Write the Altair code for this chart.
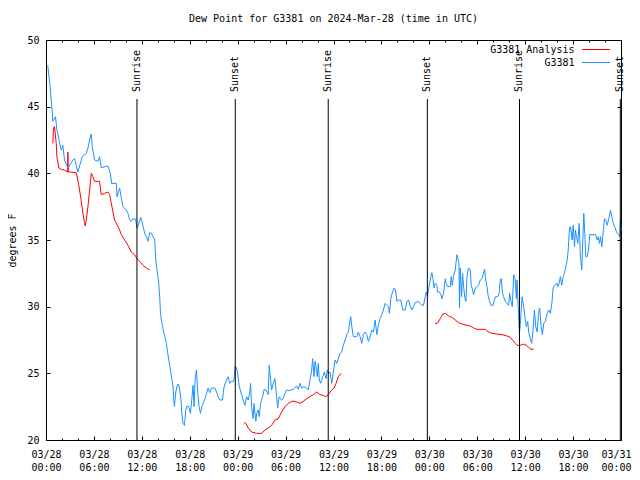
import altair as alt
import pandas as pd

# ---------------- data ----------------
blue_hours = [0.22, 0.50, 0.78, 0.85, 1.19, 1.36, 1.70, 1.91, 2.11, 2.32, 2.74, 3.16, 3.36, 3.58, 3.99, 4.54, 5.04, 5.25, 5.46, 5.67,
              5.79, 6.08, 6.50, 6.71, 6.92, 7.34, 7.75, 8.06, 8.22, 8.81, 8.88, 9.22, 9.44, 9.64, 10.06, 10.26, 10.48, 10.69, 10.89, 11.23,
              11.39, 11.60, 11.86, 12.07, 12.36, 12.57, 12.77, 12.98, 13.20, 13.40, 13.61, 13.74, 13.90, 14.08, 14.24, 14.33, 14.45, 14.58, 14.74, 14.90,
              15.08, 15.24, 15.41, 15.58, 15.75, 15.91, 16.00, 16.08, 16.25, 16.41, 16.59, 16.75, 16.91, 17.00, 17.16, 17.34, 17.50, 17.66, 17.88, 18.09,
              18.25, 18.42, 18.54, 18.67, 18.84, 19.01, 19.17, 19.35, 19.51, 19.67, 19.92, 20.10, 20.30, 20.51, 20.72, 21.14, 21.35, 21.55, 21.77, 22.10,
              22.27, 22.43, 22.81, 23.02, 23.23, 23.52, 23.69, 23.86, 24.02, 24.19, 24.49, 24.69, 24.90, 25.12, 25.32, 25.53, 25.62, 25.74, 25.94, 26.03,
              26.28, 26.37, 26.57, 26.70, 26.87, 27.12, 27.32, 27.54, 27.82, 27.95, 28.13, 28.25, 28.45, 28.67, 28.88, 29.00, 29.20, 29.51, 29.71, 29.92,
              30.13, 30.46, 30.96, 31.39, 31.59, 31.80, 32.01, 32.30, 32.64, 32.84, 33.06, 33.27, 33.39, 33.56, 33.68, 33.81, 33.97, 34.10, 34.22, 34.40,
              34.65, 34.85, 35.06, 35.23, 35.40, 35.56, 35.78, 35.98, 36.19, 36.40, 36.61, 36.82, 37.03, 37.23, 37.45, 37.66, 37.86, 38.07, 38.16, 38.29,
              38.49, 38.91, 39.11, 39.33, 39.54, 39.74, 39.95, 40.17, 40.37, 40.58, 40.80, 41.00, 41.21, 41.33, 41.42, 41.62, 41.84, 42.05, 42.25, 42.46,
              42.67, 42.88, 43.00, 43.18, 43.38, 43.59, 43.76, 43.93, 44.13, 44.43, 44.68, 44.97, 45.19, 45.39, 45.60, 45.81, 46.01, 46.23, 46.64, 46.85,
              47.07, 47.27, 47.48, 47.61, 47.77, 47.89, 48.02, 48.20, 48.32, 48.45, 48.61, 48.73, 48.95, 49.02, 49.27, 49.45, 49.58, 49.78, 49.99, 50.11,
              50.28, 50.62, 50.74, 50.87, 51.03, 51.24, 51.46, 51.58, 51.71, 51.78, 51.87, 52.04, 52.16, 52.29, 52.46, 52.59, 52.71, 52.91, 53.13, 53.25,
              53.42, 53.54, 53.75, 53.97, 54.17, 54.38, 54.59, 54.92, 55.04, 55.22, 55.38, 55.55, 55.72, 55.97, 56.14, 56.30, 56.55, 56.73, 56.89, 57.02,
              57.14, 57.30, 57.52, 57.93, 58.06, 58.23, 58.39, 58.56, 58.74, 58.90, 58.98, 59.19, 59.28, 59.40, 59.61, 59.81, 60.03, 60.15, 60.32, 60.44,
              60.65, 60.82, 60.99, 61.16, 61.32, 61.50, 61.66, 61.82, 62.00, 62.16, 62.32, 62.53, 62.75, 62.95, 63.16, 63.37, 63.50, 63.66, 64.00, 64.07,
              64.25, 64.41, 64.58, 64.75, 64.92, 65.08, 65.26, 65.39, 65.55, 65.67, 65.89, 66.01, 66.18, 66.30, 66.43, 66.59, 66.76, 66.92, 67.09, 67.34,
              67.47, 67.59, 67.77, 67.93, 68.09, 68.81, 69.02, 69.15, 69.31, 69.43, 69.60, 69.77, 69.93, 70.10, 70.27, 70.48, 70.69, 70.85, 71.03, 71.19,
              71.44, 71.69, 71.85, 71.94, 72.00]
blue_vals = [48.1, 46.6, 44.6, 43.9, 44.25, 43.25, 42.3, 41.75, 42.1, 41.0, 40.4, 40.8, 41.0, 41.1, 40.1, 41.25, 41.5, 41.9, 42.5, 42.95,
             42.0, 41.0, 40.9, 41.25, 40.4, 40.5, 40.55, 40.0, 39.25, 39.25, 38.25, 38.9, 38.1, 37.5, 37.25, 37.0, 36.5, 36.4, 36.6, 36.55,
             35.9, 36.2, 36.7, 36.25, 35.5, 35.25, 34.9, 35.55, 35.5, 35.25, 35.0, 33.5, 32.75, 32.0, 30.75, 29.5, 29.0, 28.6, 28.1, 27.75,
             27.25, 26.5, 25.9, 25.25, 24.6, 24.05, 23.0, 22.5, 23.6, 24.05, 24.2, 23.75, 23.0, 22.0, 21.25, 21.1, 22.25, 22.55, 22.5, 22.0,
             23.0, 24.1, 22.5, 24.6, 25.25, 23.5, 22.5, 22.0, 22.5, 22.75, 23.1, 23.5, 23.9, 23.55, 23.9, 23.9, 23.6, 23.25, 23.0, 23.0,
             23.9, 24.25, 24.75, 24.25, 24.4, 24.4, 25.55, 25.4, 24.9, 24.05, 23.4, 23.0, 22.6, 23.25, 23.0, 23.6, 24.25, 22.5, 21.6, 22.75,
             21.4, 22.0, 22.25, 21.75, 22.75, 23.25, 23.8, 23.75, 23.4, 25.6, 24.5, 23.75, 24.25, 24.6, 23.25, 22.4, 23.25, 23.0, 23.1, 23.5,
             23.75, 23.7, 23.8, 24.05, 23.8, 24.25, 23.9, 24.0, 23.9, 23.75, 24.5, 25.25, 26.1, 24.75, 25.9, 25.5, 24.75, 25.75, 24.5, 24.25,
             24.75, 25.1, 24.6, 25.25, 25.0, 25.1, 24.25, 25.1, 26.0, 25.75, 26.1, 26.5, 26.6, 27.1, 27.5, 27.9, 28.1, 29.0, 29.25, 28.5,
             27.75, 27.75, 28.1, 27.75, 27.25, 27.9, 28.1, 27.9, 27.4, 27.75, 28.25, 28.1, 29.0, 28.4, 27.9, 28.6, 29.1, 29.4, 29.75, 30.25,
             30.1, 30.0, 29.5, 30.6, 31.1, 31.4, 31.25, 30.4, 30.5, 30.5, 29.75, 29.75, 30.4, 30.5, 30.1, 29.75, 30.0, 30.3, 30.4, 30.25,
             30.1, 30.1, 30.75, 31.1, 30.75, 31.25, 31.75, 32.25, 32.55, 32.1, 31.4, 31.75, 31.6, 31.1, 31.1, 30.9, 30.6, 31.0, 32.1, 31.75,
             31.5, 31.5, 32.25, 31.6, 32.25, 32.75, 33.9, 33.6, 33.25, 29.9, 32.9, 30.75, 32.5, 31.5, 30.6, 30.4, 32.25, 32.9, 32.75, 31.6,
             31.25, 30.9, 31.4, 31.5, 31.6, 32.0, 32.1, 32.8, 32.1, 31.5, 30.75, 30.4, 30.1, 30.1, 30.5, 30.75, 30.75, 31.0, 32.0, 32.1,
             31.1, 30.75, 30.4, 30.1, 31.0, 30.4, 30.0, 32.4, 32.1, 30.6, 32.0, 29.1, 28.0, 28.75, 30.75, 30.0, 29.0, 28.5, 28.9, 28.1,
             27.6, 27.25, 28.25, 29.75, 28.5, 28.1, 29.4, 29.9, 28.5, 27.9, 28.75, 28.9, 29.5, 29.75, 29.5, 30.4, 31.4, 31.6, 31.75, 31.5,
             31.75, 32.25, 31.6, 32.25, 32.5, 33.0, 33.5, 34.25, 35.9, 36.0, 35.0, 36.1, 34.5, 35.75, 35.25, 34.75, 36.25, 33.75, 32.75, 37.0,
             35.5, 33.75, 33.75, 34.25, 35.4, 35.4, 35.0, 35.25, 34.75, 35.25, 34.5, 35.6, 36.6, 36.5, 36.1, 36.6, 37.25, 36.75, 36.25, 36.0,
             35.6, 35.4, 35.25, 36.6, 35.7]

red_segments = [1, 2, 3]
red_hours = [
    [0.85, 0.94, 1.07, 1.28, 1.36, 1.61, 1.91, 2.32, 2.70, 2.74, 2.79, 2.95, 3.79, 3.99, 4.20, 4.42, 4.62, 4.83, 4.92, 5.04,
     5.25, 5.46, 5.67, 5.87, 6.08, 6.71, 6.92, 7.34, 7.75, 7.97, 8.18, 8.38, 8.59, 8.81, 9.22, 9.44, 9.85, 10.26, 10.69, 11.10,
     11.39, 11.73, 12.14, 12.57, 12.98],
    [24.78, 25.03, 25.32, 25.74, 26.37, 27.00, 27.41, 27.82, 28.25, 28.67, 29.08, 29.51, 29.92, 30.33, 30.76, 31.17, 31.80, 32.22, 32.64, 33.06,
     33.47, 33.90, 34.31, 34.73, 35.03, 35.35, 35.78, 36.07, 36.32, 36.61, 36.94],
    [48.73, 49.02, 49.36, 49.70, 49.99, 50.40, 50.83, 51.24, 51.66, 52.08, 52.71, 53.13, 53.54, 53.97, 55.01, 55.42, 55.85, 56.47, 57.10, 57.73,
     58.14, 58.48, 58.77, 58.98, 59.40, 59.81, 60.15, 60.44, 60.74, 61.07],
]
red_vals = [
    [42.25, 43.4, 43.5, 42.25, 41.25, 40.4, 40.3, 40.25, 40.1, 41.6, 40.1, 40.1, 40.05, 39.5, 38.75, 37.9, 37.0, 36.25, 36.05, 36.5,
     37.5, 38.75, 40.0, 39.75, 39.4, 39.4, 38.4, 38.5, 38.6, 38.4, 37.75, 37.1, 36.5, 36.25, 35.75, 35.4, 35.0, 34.6, 34.1, 33.9,
     33.6, 33.4, 33.1, 32.9, 32.75],
    [21.3, 21.25, 20.9, 20.6, 20.5, 20.5, 20.75, 20.9, 21.1, 21.5, 21.6, 22.1, 22.5, 22.75, 22.9, 22.9, 22.75, 22.9, 23.1, 23.25,
     23.4, 23.6, 23.4, 23.35, 23.25, 23.4, 23.75, 23.9, 24.25, 24.75, 25.0],
    [28.75, 28.75, 29.1, 29.45, 29.5, 29.3, 29.2, 29.0, 28.8, 28.7, 28.6, 28.55, 28.4, 28.3, 28.3, 28.1, 28.0, 27.95, 27.9, 27.8,
     27.7, 27.45, 27.25, 27.1, 27.1, 27.2, 27.1, 26.95, 26.8, 26.8],
]

sun_hours = [11.39, 23.70, 35.34, 47.75, 59.29, 71.91]
sun_labels = ["Sunrise", "Sunset", "Sunrise", "Sunset", "Sunrise", "Sunset"]

series_names = ["G3381 Analysis", "G3381"]
series_colors = ["#ff0000", "#1e90ff"]

major_hours = [0, 6, 12, 18, 24, 30, 36, 42, 48, 54, 60, 66, 72]
minor_hours = list(range(0, 73, 2))
y_ticks = [20, 25, 30, 35, 40, 45, 50]

title_text = "Dew Point for G3381 on 2024-Mar-28 (time in UTC)"
y_title = "degrees F"

# ---------------- build tables ----------------
T0 = pd.Timestamp("2024-03-28T00:00:00Z").value // 10**6
HOUR = 3600 * 1000


def ms(h):
    return T0 + h * HOUR


blue_df = pd.DataFrame({"t": [ms(h) for h in blue_hours], "v": blue_vals, "series": series_names[1], "seg": 0})
red_rows = []
for seg, hs, vs in zip(red_segments, red_hours, red_vals):
    for h, v in zip(hs, vs):
        red_rows.append({"t": ms(h), "v": v, "series": series_names[0], "seg": seg})
red_df = pd.DataFrame(red_rows)
lines_df = pd.concat([red_df, blue_df], ignore_index=True)
sun_df = pd.DataFrame({"t": [ms(h) for h in sun_hours], "label": sun_labels})

FONT = "DejaVu Sans Mono"
xscale = alt.Scale(type="utc", domain=[ms(0), ms(72)], nice=False)
yscale = alt.Scale(domain=[20, 50], nice=False, zero=False)
major_vals = [ms(h) for h in major_hours]
minor_vals = [ms(h) for h in minor_hours]
last_tick = f"datum.value >= {ms(72)}"

x_main_axis = alt.Axis(
    orient="bottom", values=major_vals, offset=-4, tickSize=4, domain=False, grid=False,
    labelExpr="[utcFormat(datum.value, '%m/%d'), utcFormat(datum.value, '%H:%M')]",
    labelFont=FONT, labelFontSize=10, labelColor="#000", labelPadding=9, labelLineHeight=13,
    labelAlign={"condition": {"test": last_tick, "value": "right"}, "value": "center"},
    labelOffset={"condition": {"test": last_tick, "value": 10}, "value": 0},
    tickColor="#000", title=None, labelFlush=False, labelOverlap=False,
)
y_main_axis = alt.Axis(
    orient="left", values=y_ticks, offset=-4, tickSize=4, domain=False, grid=False,
    labelFont=FONT, labelFontSize=10, labelColor="#000", labelPadding=7, tickColor="#000",
    title=y_title, titleFont=FONT, titleFontSize=10, titleFontWeight="normal", titleColor="#000",
    titlePadding=9,
)

lines = alt.Chart(lines_df).mark_line(strokeWidth=1, interpolate="linear").encode(
    x=alt.X("t:T", scale=xscale, axis=x_main_axis),
    y=alt.Y("v:Q", scale=yscale, axis=y_main_axis),
    color=alt.Color("series:N", scale=alt.Scale(domain=series_names, range=series_colors), legend=None),
    detail="seg:N",
)

# invisible layer carrying top / right major ticks
ticks_top = alt.Chart(sun_df).mark_rule(opacity=0).encode(
    x=alt.X("t:T", scale=xscale, axis=alt.Axis(orient="top", values=major_vals, offset=-4, tickSize=4,
                                                labels=False, domain=False, grid=False, title=None, tickColor="#000")),
    y=alt.Y("yv:Q", scale=yscale, axis=alt.Axis(orient="right", values=y_ticks, offset=-4, tickSize=4,
                                                 labels=False, domain=False, grid=False, title=None, tickColor="#000")),
).transform_calculate(yv="30")

sun_rules = alt.Chart(sun_df).mark_rule(color="#000", strokeWidth=1).encode(
    x=alt.X("t:T", scale=xscale, axis=alt.Axis(orient="bottom", values=minor_vals, offset=-2, tickSize=2,
                                                labels=False, domain=False, grid=False, title=None, tickColor="#000")),
    y=alt.value(59),
    y2=alt.value(400),
)

sun_text = alt.Chart(sun_df).mark_text(
    angle=270, align="left", baseline="middle", font=FONT, fontSize=10, color="#000"
).encode(
    x=alt.X("t:T", scale=xscale, axis=alt.Axis(orient="top", values=minor_vals, offset=-2, tickSize=2,
                                                labels=False, domain=False, grid=False, title=None, tickColor="#000")),
    y=alt.value(52),
    text="label:N",
)

# key (legend) in the top-right corner, gnuplot style: label, then line sample
key_layers = []
for i, (name, col) in enumerate(zip(series_names, series_colors)):
    row_y = 9.5 + 13 * i
    key_layers.append(
        alt.Chart(pd.DataFrame({"name": [name]})).mark_text(
            align="right", baseline="middle", font=FONT, fontSize=10, color="#000"
        ).encode(x=alt.value(528.5), y=alt.value(row_y), text="name:N")
    )
    key_layers.append(
        alt.Chart(pd.DataFrame({"name": [name]})).mark_rule(color=col, strokeWidth=1).encode(
            x=alt.value(536), x2=alt.value(564), y=alt.value(row_y)
        )
    )

chart = alt.layer(lines, ticks_top, sun_rules, sun_text, *key_layers).resolve_axis(
    x="independent", y="independent"
).properties(
    width=575,
    height=400,
    autosize=alt.AutoSizeParams(type="none"),
    padding={"left": 38, "top": 32, "right": 11, "bottom": 32},
    background="white",
    title=alt.TitleParams(title_text, font=FONT, fontSize=10, fontWeight="normal", color="#000",
                          anchor="middle", offset=11),
).configure_view(stroke="#000", strokeWidth=1)

chart.save("out.html", embed_options={"renderer": "svg", "actions": False})
